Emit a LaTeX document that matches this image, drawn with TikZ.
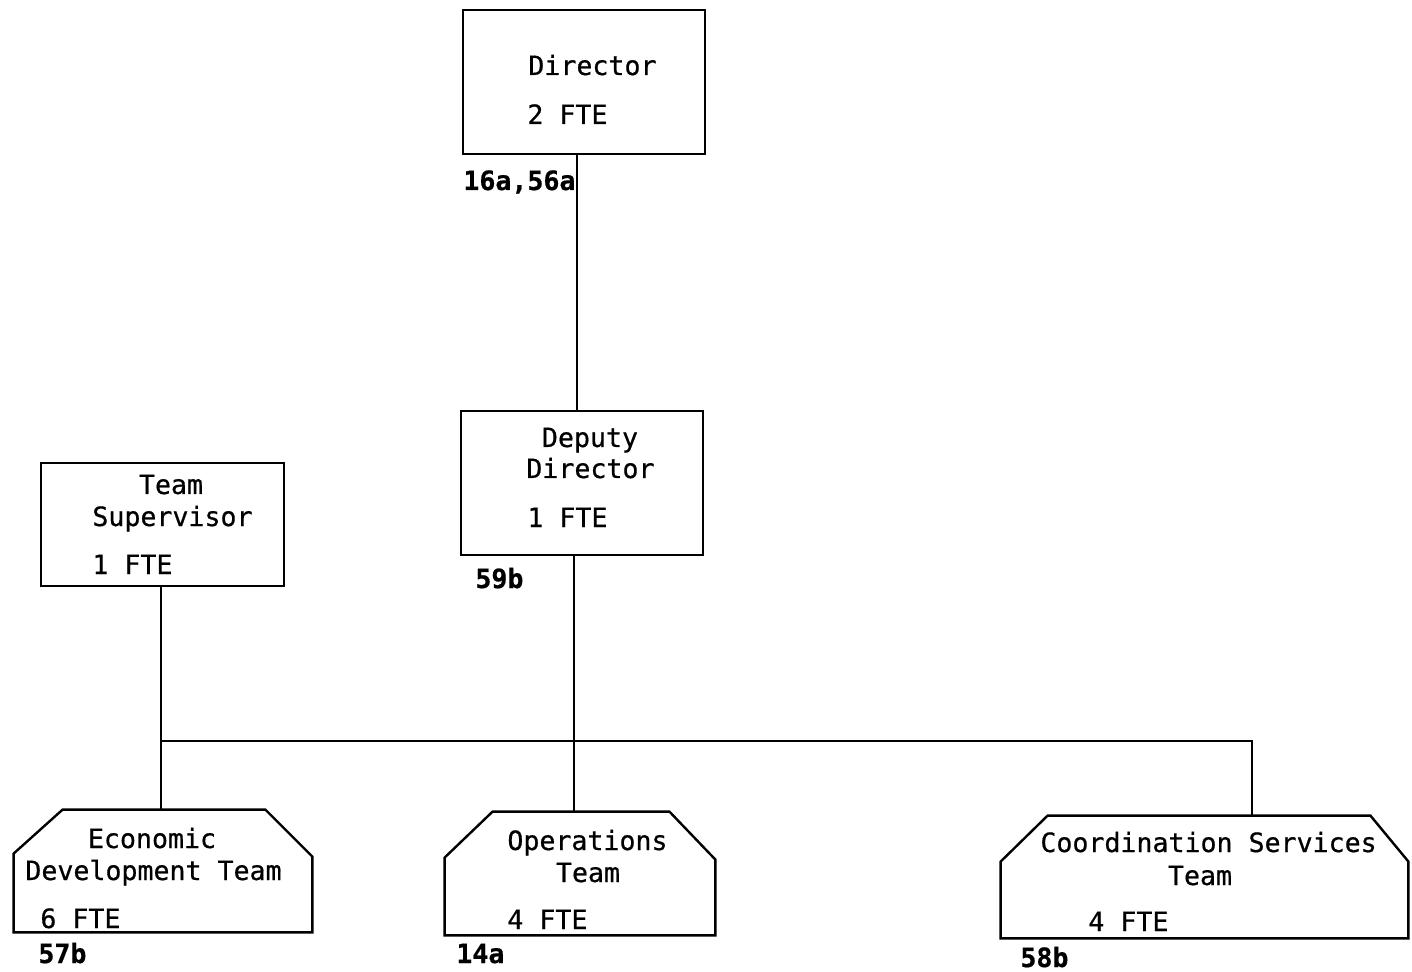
\documentclass[tikz,border=0pt]{standalone}
\usepackage{fontspec}
\newfontfamily\typefont[FakeBold=0.6]{DejaVu Sans Mono}
\usetikzlibrary{calc}
\tikzset{
  outline/.style={line width=1.2pt, black},
  conn/.style={line width=1.2pt, black},
  txt/.style={anchor=base west, inner sep=0pt, font=\typefont\fontsize{13.3}{16}\selectfont},
  ctxt/.style={anchor=base, inner sep=0pt, font=\typefont\fontsize{13.3}{16}\selectfont},
  ref/.style={anchor=base west, inner sep=0pt, font=\typefont\bfseries\fontsize{13.3}{16}\selectfont},
}
\begin{document}
\begin{tikzpicture}[x=0.5pt, y=-0.5pt]
\useasboundingbox (0,0) rectangle (1412,972);
% rectangles
\node[draw, outline, minimum width=121pt, minimum height=72pt, inner sep=0pt] (dir) at (584,82) {};
\node[draw, outline, minimum width=121pt, minimum height=72pt, inner sep=0pt] (dep) at (582,483) {};
\node[draw, outline, minimum width=121.5pt, minimum height=61.5pt, inner sep=0pt] (ts) at (162.5,524.5) {};
% team boxes (chamfered top corners)
\node[draw=none, minimum width=149pt, minimum height=61pt, inner sep=0pt] (econ) at (163,871) {};
\draw[outline] ($(econ.north west)+(0,44)$) -- ($(econ.north west)+(49,0)$) -- ($(econ.north east)+(-47,0)$) -- ($(econ.north east)+(0,47)$) -- (econ.south east) -- (econ.south west) -- cycle;
\node[draw=none, minimum width=135pt, minimum height=61.5pt, inner sep=0pt] (ops) at (580,873.5) {};
\draw[outline] ($(ops.north west)+(0,46)$) -- ($(ops.north west)+(48,0)$) -- ($(ops.north east)+(-46,0)$) -- ($(ops.north east)+(0,48)$) -- (ops.south east) -- (ops.south west) -- cycle;
\node[draw=none, minimum width=203.5pt, minimum height=61pt, inner sep=0pt] (coord) at (1204.5,877) {};
\draw[outline] ($(coord.north west)+(0,46)$) -- ($(coord.north west)+(47,0)$) -- ($(coord.north east)+(-38,0)$) -- ($(coord.north east)+(0,46)$) -- (coord.south east) -- (coord.south west) -- cycle;
% texts
\node[txt] (t1) at (528,75) {Director};
\node[txt] (t2) at (527,124) {2 FTE};
\node[ref] (r1) at (463,190) {16a,56a};
\node[ctxt] (t3) at (590,447) {Deputy};
\node[txt] (t4) at (526,478) {Director};
\node[txt] (t5) at (527,527) {1 FTE};
\node[ref] (r2) at (475,588) {59b};
\node[ctxt] (t6) at (171,494) {Team};
\node[txt] (t7) at (92,526) {Supervisor};
\node[txt] (t8) at (92,574) {1 FTE};
\node[ctxt] (t9) at (152,848) {Economic};
\node[txt] (t10) at (25,880) {Development Team};
\node[txt] (t11) at (40,928) {6 FTE};
\node[ref] (r3) at (38,963) {57b};
\node[txt] (t12) at (507,850) {Operations};
\node[ctxt] (t13) at (588,882) {Team};
\node[txt] (t14) at (507,929) {4 FTE};
\node[ref] (r4) at (456,963) {14a};
\node[txt] (t15) at (1040,852) {Coordination Services};
\node[ctxt] (t16) at (1200,885) {Team};
\node[txt] (t17) at (1088,931) {4 FTE};
\node[ref] (r5) at (1020,967) {58b};
% connectors
\coordinate (xa) at (577,0);
\coordinate (xb) at (574,0);
\coordinate (j) at (161,741);
\coordinate (k) at (1252,741);
\draw[conn] (xa |- dir.south) -- (xa |- dep.north);
\draw[conn] (xb |- dep.south) -- (xb |- ops.north);
\draw[conn] (j |- ts.south) -- (j |- econ.north);
\draw[conn] (j) -- (k) -- (k |- coord.north);
\end{tikzpicture}
\end{document}
